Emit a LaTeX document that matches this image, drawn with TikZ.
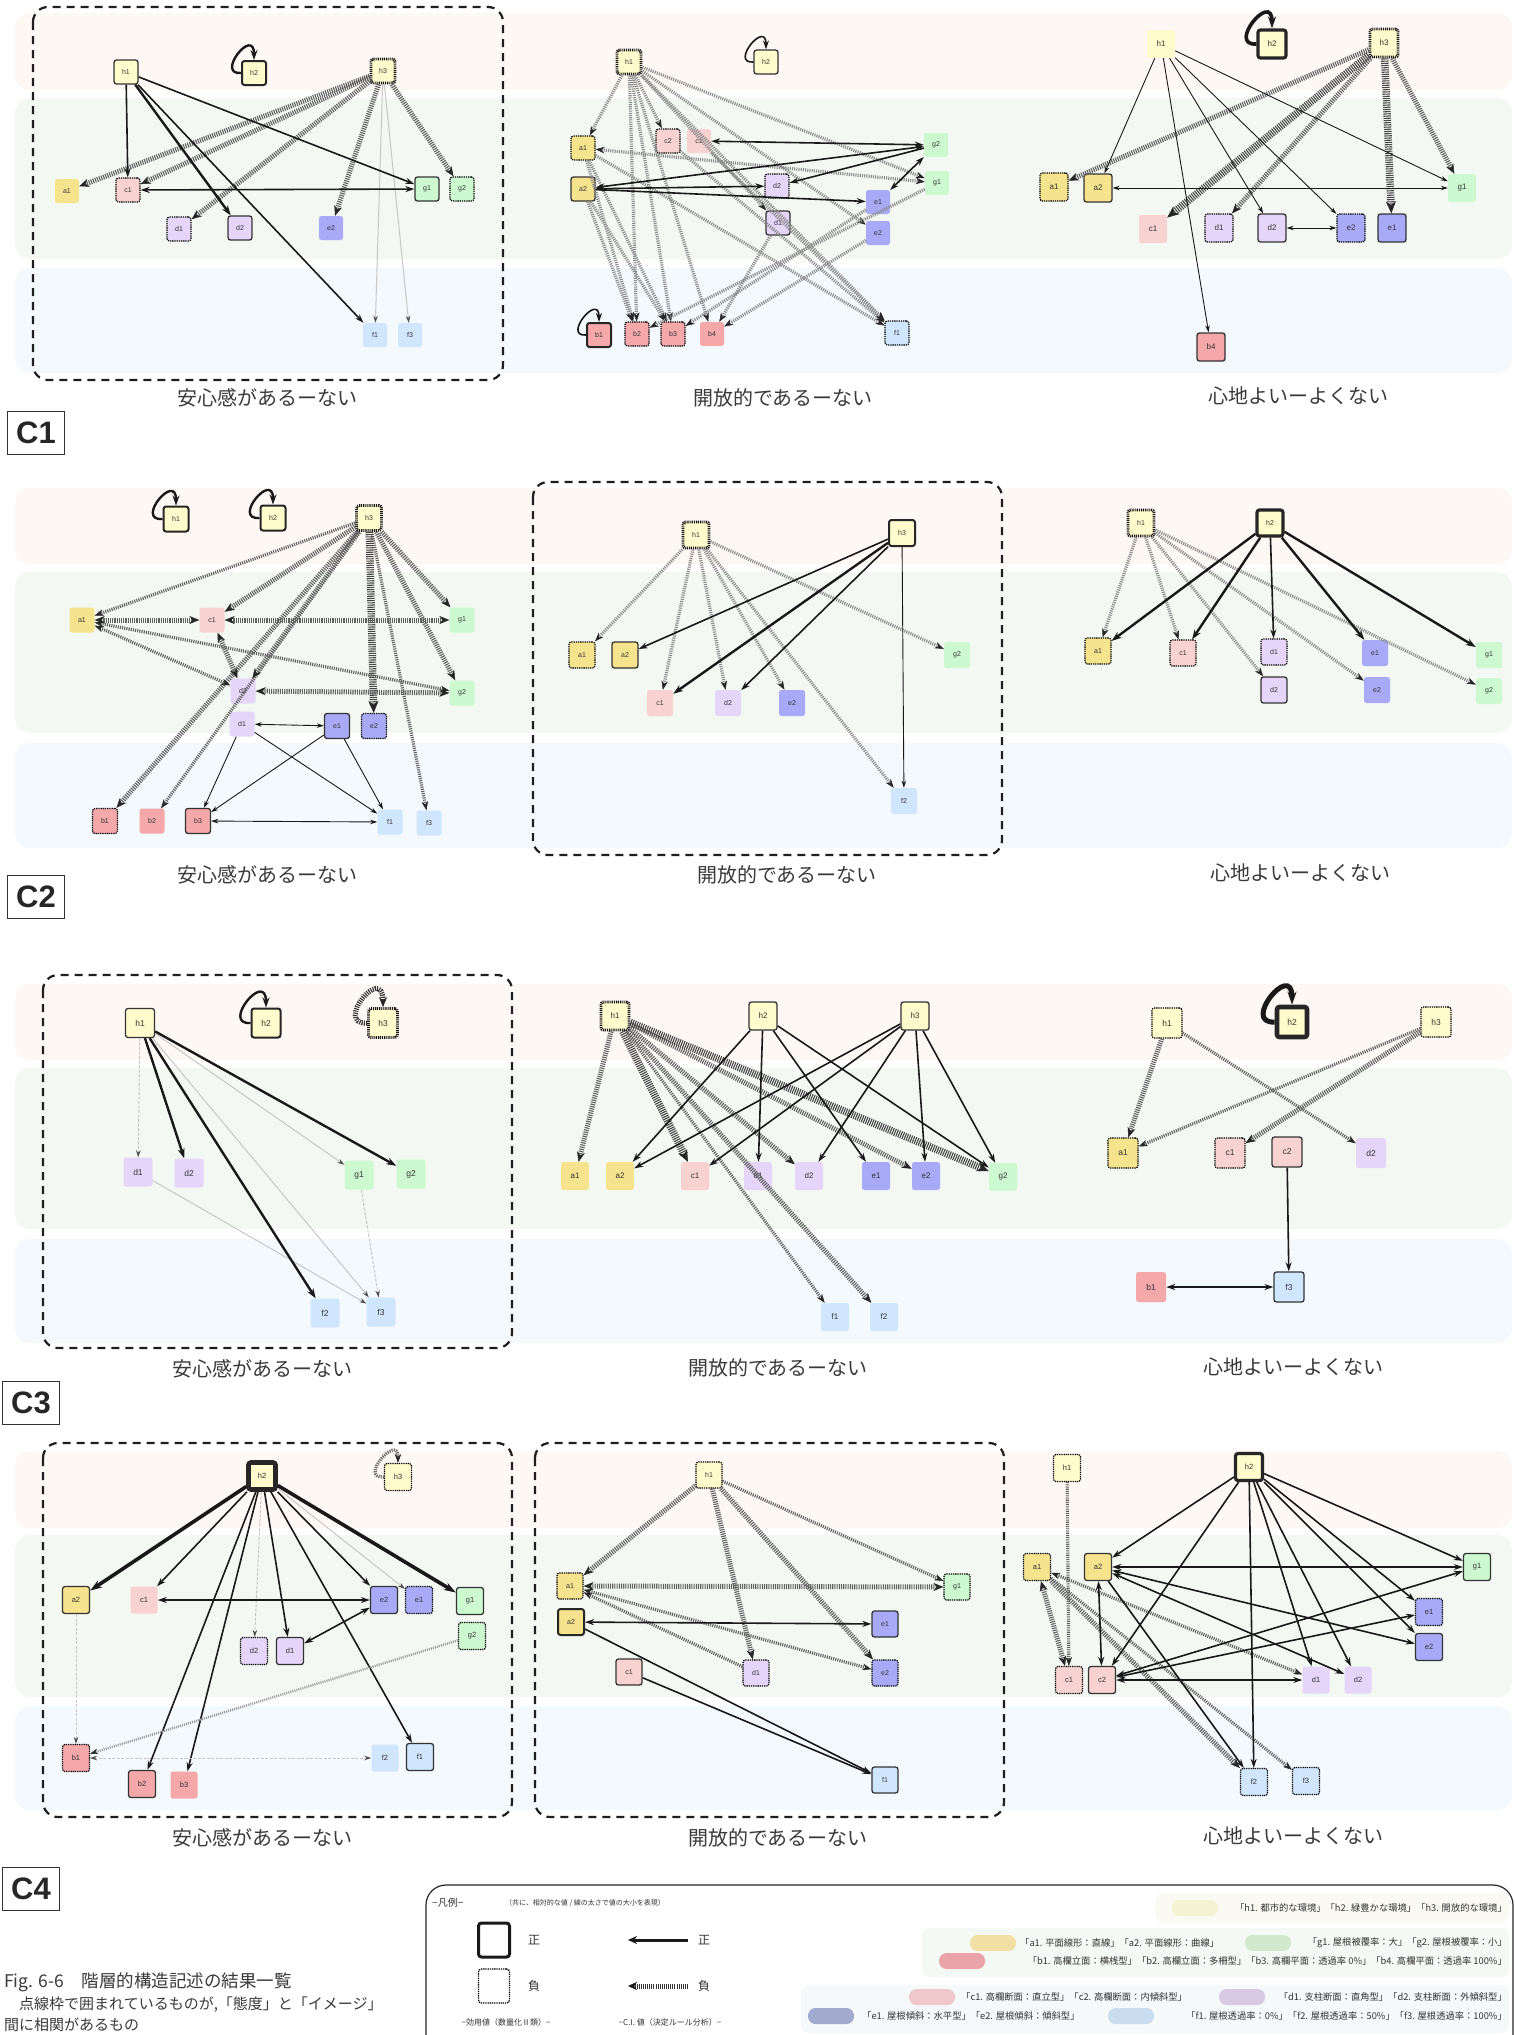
\documentclass[tikz,border=0pt]{standalone}
\usepackage{fontspec}
\setmainfont{Liberation Sans}
\newfontfamily\jp{Noto Sans CJK JP}
\usetikzlibrary{arrows.meta}

% node fills
\definecolor{ch}{HTML}{FFFBCC}
\definecolor{ca}{HTML}{F6E38E}
\definecolor{cb}{HTML}{F5A8AA}
\definecolor{cc}{HTML}{F8D2D0}
\definecolor{cd}{HTML}{E5D5F8}
\definecolor{ce}{HTML}{A8AAF7}
\definecolor{cf}{HTML}{D0E6FC}
\definecolor{cg}{HTML}{CDF9D0}
% band fills
\definecolor{bandA}{HTML}{FDF8F4}
\definecolor{bandB}{HTML}{F3F8F3}
\definecolor{bandC}{HTML}{F3F9FC}
% legend colours
\definecolor{lgA}{HTML}{FAFAF3}
\definecolor{lgB}{HTML}{F5F9F6}
\definecolor{lgC}{HTML}{F5F9FA}
\definecolor{pillh}{HTML}{F3F3D4}
\definecolor{pilla}{HTML}{F1DFA3}
\definecolor{pillg}{HTML}{D3E9CE}
\definecolor{pillb}{HTML}{E9A3A9}
\definecolor{pillc}{HTML}{F0C7CB}
\definecolor{pilld}{HTML}{D9C9E2}
\definecolor{pille}{HTML}{A3AACF}
\definecolor{pillf}{HTML}{C9DDEF}
\definecolor{txt}{HTML}{3A3A3A}

\begin{document}
\begin{tikzpicture}[x=1pt,y=-1pt,
  nd/.style={rectangle,rounded corners=2.5pt,inner sep=0pt,text=black!80},
  kh/.style={fill=ch}, ka/.style={fill=ca}, kb/.style={fill=cb}, kc/.style={fill=cc},
  kd/.style={fill=cd}, ke/.style={fill=ce}, kf/.style={fill=cf}, kg/.style={fill=cg},
  bs/.style={draw=black!80,line width=1.3pt},
  bm/.style={draw=black!85,line width=2pt},
  bt/.style={draw=black!85,line width=3.2pt},
  bx/.style={draw=black!85,line width=4.6pt},
  bd/.style={draw=black,line width=1.2pt,dash pattern=on 1.3pt off 0.9pt},
  bh/.style={draw=black!90,line width=2.8pt,dash pattern=on 1pt off 0.9pt},
  ps/.style={draw=black!90,line width=0.9pt,>={Stealth[length=7pt,width=4.5pt]},->},
  pm/.style={draw=black!90,line width=1.6pt,>={Stealth[length=9pt,width=6pt]},->},
  pt/.style={draw=black!90,line width=2.4pt,>={Stealth[length=10pt,width=7pt]},->},
  px/.style={draw=black!90,line width=3.6pt,>={Stealth[length=12pt,width=8pt]},->},
  pl/.style={draw=black!22,line width=1pt,>={Stealth[length=7pt,width=4.5pt,color=black!70]},->},
  pld/.style={pl,dash pattern=on 3pt off 1.5pt},
  ns/.style={draw=black!62,line width=3.2pt,dash pattern=on 1.1pt off 1.1pt,
     >={Stealth[length=9pt,width=6.5pt,line width=0.5pt,color=black!85]},->},
  nsl/.style={ns,draw=black!45},
  nm/.style={ns,line width=5pt,>={Stealth[length=10pt,width=8pt,line width=0.5pt,color=black!85]}},
  nt/.style={ns,draw=black!72,line width=7.5pt,>={Stealth[length=12pt,width=10pt,line width=0.5pt,color=black!85]}},
  band/.style={rounded corners=15pt},
  frame/.style={draw=black!88,line width=2.2pt,dash pattern=on 8pt off 6pt,rounded corners=15pt},
  ttl/.style={font=\jp\fontsize{20}{22}\selectfont,text=txt},
  clab/.style={draw=black!80,line width=1pt,minimum width=57pt,minimum height=43pt,inner sep=0pt,
     font=\bfseries\fontsize{31}{31}\selectfont,text=black!85},
  lt/.style={font=\jp\fontsize{9.3}{10}\selectfont,text=black!80,inner sep=0pt},
  pill/.style={rectangle,rounded corners=7.5pt,minimum width=46pt,minimum height=16pt,inner sep=0pt}
]
\useasboundingbox (0,0) rectangle (1515,2035);
\fill[white] (0,0) rectangle (1515,2035);

% ---------- background bands ----------
\foreach \ya/\yb/\yc/\yd/\ye/\yf in {13/90/98/259/268/373, 488/564/572/733/743/848,
    984/1060/1068/1229/1239/1343, 1451/1528/1535/1697/1706/1810}{
  \fill[bandA,band] (15,\ya) rectangle (1512,\yb);
  \fill[bandB,band] (15,\yc) rectangle (1512,\yd);
  \fill[bandC,band] (15,\ye) rectangle (1512,\yf);
}

% ---------- correlation frames ----------
\draw[frame] (33,7) rectangle (503,380);
\draw[frame] (533,482) rectangle (1002,855);
\draw[frame] (43,975) rectangle (512,1348);
\draw[frame] (43,1443) rectangle (512,1817);
\draw[frame] (535,1443) rectangle (1004,1817);

% ---------- titles ----------
\node[ttl] (tA) at (267,398) {安心感があるーない};
\node[ttl] (tB) at (783,398) {開放的であるーない};
\node[ttl] (tC) at (1298,396) {心地よいーよくない};
\node[ttl] (tD) at (267,875) {安心感があるーない};
\node[ttl] (tE) at (787,875) {開放的であるーない};
\node[ttl] (tF) at (1300,873) {心地よいーよくない};
\node[ttl] (tG) at (262,1369) {安心感があるーない};
\node[ttl] (tH) at (778,1368) {開放的であるーない};
\node[ttl] (tI) at (1293,1367) {心地よいーよくない};
\node[ttl] (tJ) at (262,1838) {安心感があるーない};
\node[ttl] (tK) at (778,1838) {開放的であるーない};
\node[ttl] (tL) at (1293,1836) {心地よいーよくない};

\node[clab] (cl1) at (36,433) {C1};
\node[clab] (cl2) at (36,897) {C2};
\node[clab] (cl3) at (31,1403) {C3};
\node[clab] (cl4) at (31,1889) {C4};

% ================= C1 : left =================
\begin{scope}[every node/.append style={minimum size=24pt,font=\fontsize{7}{8}\selectfont}]
\node[nd,kh,bs] (Ah1) at (126,72) {h1};
\node[nd,kh,bm] (Ah2) at (254,73) {h2};
\node[nd,kh,bh] (Ah3) at (383,71) {h3};
\node[nd,ka] (Aa1) at (67,191) {a1};
\node[nd,kc,bd] (Ac1) at (128,190) {c1};
\node[nd,kg,bs] (Ag1) at (427,189) {g1};
\node[nd,kg,bd] (Ag2) at (462,189) {g2};
\node[nd,kd,bd] (Ad1) at (179,229) {d1};
\node[nd,kd,bs] (Ad2) at (240,228) {d2};
\node[nd,ke] (Ae2) at (331,228) {e2};
\node[nd,kf] (Af1) at (375,335) {f1};
\node[nd,kf] (Af3) at (410,335) {f3};
\end{scope}
\draw[pl] (Ah3) -- (Af1);
\draw[pl] (Ah3) -- (Af3);
\draw[nm] (Ah3) -- (Aa1);
\draw[nm] (Ah3) -- (Ac1);
\draw[nm] (Ah3) -- (Ad1);
\draw[nm] (Ah3) -- (Ae2);
\draw[nm] (Ah3) -- (Ag2);
\draw[pm] (Ah1) -- (Ac1);
\draw[pt] (Ah1) -- (Ad2);
\draw[pm] (Ah1) -- (Af1);
\draw[pm] (Ah1) -- (Ag1);
\draw[pm,<->] (Ac1) -- (Ag1);
\draw[pt] (Ah2.west) .. controls +(-26,2) and +(0,-34) .. (Ah2.north);

% ================= C1 : middle =================
\begin{scope}[every node/.append style={minimum size=24pt,font=\fontsize{7}{8}\selectfont}]
\node[nd,kh,bh] (Bh1) at (629,62) {h1};
\node[nd,kh,bs] (Bh2) at (766,62) {h2};
\node[nd,ka,bd] (Ba1) at (583,148) {a1};
\node[nd,ka,bs] (Ba2) at (583,189) {a2};
\node[nd,kc,bd] (Bc2) at (668,141) {c2};
\node[nd,kc] (Bc1) at (699,141) {c1};
\node[nd,kd,bd] (Bd2) at (777,186) {d2};
\node[nd,kd,bs] (Bd1) at (778,223) {d1};
\node[nd,ke] (Be1) at (878,202) {e1};
\node[nd,ke] (Be2) at (878,233) {e2};
\node[nd,kg] (Bg2) at (936,145) {g2};
\node[nd,kg] (Bg1) at (937,183) {g1};
\node[nd,kb,bm] (Bb1) at (599,335) {b1};
\node[nd,kb,bd] (Bb2) at (637,334) {b2};
\node[nd,kb,bd] (Bb3) at (673,334) {b3};
\node[nd,kb] (Bb4) at (712,334) {b4};
\node[nd,kf,bd] (Bf1) at (897,333) {f1};
\end{scope}
\foreach \t in {Ba1,Bc2,Bb2,Bb3,Bb4,Bd1,Be2,Bg1,Bf1}{\draw[nsl] (Bh1) -- (\t);}
\draw[nsl,<->] (Ba1) -- (Bg1);
\draw[nsl] (Ba1) -- (Bb2);
\draw[nsl] (Ba1) -- (Bb3);
\draw[nsl] (Ba2) -- (Bb2);
\draw[nsl] (Ba2) -- (Bb3);
\draw[nsl] (Ba1) -- (Bf1);
\draw[nsl] (Bc2) -- (Bf1);
\draw[nsl] (Bc1) -- (Bf1);
\draw[nsl] (Bd1) -- (Bb4);
\draw[nsl] (Bg1) -- (Bb2);
\draw[nsl] (Be1) -- (Bb3);
\draw[nsl] (Be2) -- (Bb4);
\draw[pm,<->] (Bg2) -- (Ba2);
\draw[pm,<->] (Ba2) -- (Bd2);
\draw[pm] (Ba2) -- (Be1);
\draw[pm] (Bg2) -- (Bd2);
\draw[pm,<->] (Bc1) -- (Bg2);
\draw[pm,<->] (Be1) -- (Bg2);
\draw[pm] (Bh2.west) .. controls +(-24,2) and +(0,-30) .. (Bh2.north);
\draw[pm] (Bb1.west) .. controls +(-24,2) and +(0,-30) .. (Bb1.north);

% ================= C1 : right =================
\begin{scope}[every node/.append style={minimum size=28pt,font=\fontsize{8}{9}\selectfont}]
\node[nd,kh] (Ch1) at (1161,44) {h1};
\node[nd,kh,bt] (Ch2) at (1272,44) {h2};
\node[nd,kh,bh] (Ch3) at (1384,43) {h3};
\node[nd,ka,bd] (Ca1) at (1054,187) {a1};
\node[nd,ka,bs] (Ca2) at (1098,188) {a2};
\node[nd,kg] (Cg1) at (1462,188) {g1};
\node[nd,kc] (Cc1) at (1153,229) {c1};
\node[nd,kd,bd] (Cd1) at (1219,228) {d1};
\node[nd,kd,bs] (Cd2) at (1272,228) {d2};
\node[nd,ke,bd] (Ce2) at (1351,228) {e2};
\node[nd,ke,bs] (Ce1) at (1392,228) {e1};
\node[nd,kb,bs] (Cb4) at (1211,347) {b4};
\end{scope}
\draw[nm] (Ch3) -- (Ca1);
\draw[nt] (Ch3) -- (Cc1);
\draw[nm] (Ch3) -- (Cd1);
\draw[nt] (Ch3) -- (Ce1);
\draw[nm] (Ch3) -- (Cg1);
\foreach \t in {Ca2,Cb4,Cd2,Ce2,Cg1}{\draw[ps] (Ch1) -- (\t);}
\draw[ps,<->] (Ca2) -- (Cg1);
\draw[ps,<->] (Cd2) -- (Ce2);
\draw[px] (Ch2.west) .. controls +(-30,2) and +(0,-38) .. (Ch2.north);

% ================= C2 : left =================
\begin{scope}[every node/.append style={minimum size=25pt,font=\fontsize{7}{8}\selectfont}]
\node[nd,kh,bm] (Dh1) at (176,519) {h1};
\node[nd,kh,bm] (Dh2) at (273,518) {h2};
\node[nd,kh,bh] (Dh3) at (369,518) {h3};
\node[nd,ka] (Da1) at (82,620) {a1};
\node[nd,kc] (Dc1) at (212,620) {c1};
\node[nd,kg] (Dg1) at (462,620) {g1};
\node[nd,kd] (Dd2) at (243,691) {d2};
\node[nd,kg] (Dg2) at (462,693) {g2};
\node[nd,kd] (Dd1) at (242,724) {d1};
\node[nd,ke,bs] (De1) at (337,726) {e1};
\node[nd,ke,bd] (De2) at (374,726) {e2};
\node[nd,kb,bd] (Db1) at (105,821) {b1};
\node[nd,kb] (Db2) at (152,821) {b2};
\node[nd,kb,bs] (Db3) at (198,821) {b3};
\node[nd,kf] (Df1) at (390,822) {f1};
\node[nd,kf] (Df3) at (429,823) {f3};
\end{scope}
\draw[ns] (Dh3) -- (Da1);
\draw[ns] (Dh3) -- (Db2);
\draw[ns] (Dh3) -- (Df3);
\draw[nm] (Dh3) -- (Dc1);
\draw[nm] (Dh3) -- (Dd2);
\draw[nm] (Dh3) -- (Dg1);
\draw[nm] (Dh3) -- (Dg2);
\draw[nm] (Dh3) -- (Db1);
\draw[nt] (Dh3) -- (De2);
\draw[nm,<->] (Da1) -- (Dc1);
\draw[nm,<->] (Dc1) -- (Dg1);
\draw[nm,<->] (Dc1) -- (Dd2);
\draw[nm,<->] (Dd2) -- (Dg2);
\draw[ns,<->] (Da1) -- (Dd2);
\draw[ns,<->] (Da1) -- (Dg2);
\draw[ps,<->] (Dd1) -- (De1);
\draw[ps] (Dd1) -- (Db3);
\draw[ps] (Dd1) -- (Df1);
\draw[ps] (De1) -- (Db3);
\draw[ps] (De1) -- (Df1);
\draw[ps,<->] (Db3) -- (Df1);
\draw[pt] (Dh1.west) .. controls +(-28,2) and +(0,-34) .. (Dh1.north);
\draw[pt] (Dh2.west) .. controls +(-28,2) and +(0,-34) .. (Dh2.north);

% ================= C2 : middle =================
\begin{scope}[every node/.append style={minimum size=26pt,font=\fontsize{7}{8}\selectfont}]
\node[nd,kh,bh] (Eh1) at (696,535) {h1};
\node[nd,kh,bm] (Eh3) at (902,533) {h3};
\node[nd,ka,bd] (Ea1) at (582,655) {a1};
\node[nd,ka,bs] (Ea2) at (625,655) {a2};
\node[nd,kg] (Eg2) at (957,655) {g2};
\node[nd,kc] (Ec1) at (660,703) {c1};
\node[nd,kd] (Ed2) at (728,703) {d2};
\node[nd,ke] (Ee2) at (792,703) {e2};
\node[nd,kf] (Ef2) at (904,801) {f2};
\end{scope}
\foreach \t in {Ea1,Ec1,Ed2,Ee2,Eg2,Ef2}{\draw[nsl] (Eh1) -- (\t);}
\draw[pm] (Eh3) -- (Ea2);
\draw[pt] (Eh3) -- (Ec1);
\draw[pm] (Eh3) -- (Ed2);
\draw[ps] (Eh3) -- (Ef2);

% ================= C2 : right =================
\begin{scope}[every node/.append style={minimum size=26pt,font=\fontsize{7}{8}\selectfont}]
\node[nd,kh,bh] (Fh1) at (1141,523) {h1};
\node[nd,kh,bt] (Fh2) at (1270,523) {h2};
\node[nd,ka,bd] (Fa1) at (1098,651) {a1};
\node[nd,kc,bd] (Fc1) at (1183,653) {c1};
\node[nd,kd,bd] (Fd1) at (1274,652) {d1};
\node[nd,ke] (Fe1) at (1375,653) {e1};
\node[nd,kg] (Fg1) at (1489,655) {g1};
\node[nd,kd,bs] (Fd2) at (1274,690) {d2};
\node[nd,ke] (Fe2) at (1377,690) {e2};
\node[nd,kg] (Fg2) at (1489,691) {g2};
\end{scope}
\foreach \t in {Fa1,Fc1,Fd2,Fe2,Fg2}{\draw[nsl] (Fh1) -- (\t);}
\draw[pt] (Fh2) -- (Fa1);
\draw[pt] (Fh2) -- (Fc1);
\draw[pm] (Fh2) -- (Fd1);
\draw[pt] (Fh2) -- (Fe1);
\draw[pt] (Fh2) -- (Fg1);

% ================= C3 : left =================
\begin{scope}[every node/.append style={minimum size=29pt,font=\fontsize{8.5}{9}\selectfont}]
\node[nd,kh,bs] (Gh1) at (140,1023) {h1};
\node[nd,kh,bm] (Gh2) at (266,1023) {h2};
\node[nd,kh,bh] (Gh3) at (383,1023) {h3};
\node[nd,kd] (Gd1) at (138,1172) {d1};
\node[nd,kd] (Gd2) at (189,1173) {d2};
\node[nd,kg] (Gg1) at (359,1175) {g1};
\node[nd,kg] (Gg2) at (411,1174) {g2};
\node[nd,kf] (Gf2) at (325,1313) {f2};
\node[nd,kf] (Gf3) at (381,1312) {f3};
\end{scope}
\draw[pld] (Gh1) -- (Gd1);
\draw[pl] (Gh1) -- (Gf3);
\draw[pl] (Gh1) -- (Gg1);
\draw[pl] (Gd1) -- (Gf3);
\draw[pld] (Gg1) -- (Gf3);
\draw[pt] (Gh1) -- (Gd2);
\draw[pt] (Gh1) -- (Gf2);
\draw[pt] (Gh1) -- (Gg2);
\draw[pt] (Gh2.west) .. controls +(-30,2) and +(0,-38) .. (Gh2.north);
\draw[nm,draw=black!80] (Gh3.west) .. controls +(-34,2) and +(0,-44) .. (Gh3.north);

% ================= C3 : middle =================
\begin{scope}[every node/.append style={minimum size=28pt,font=\fontsize{8}{9}\selectfont}]
\node[nd,kh,bh] (Hh1) at (615,1016) {h1};
\node[nd,kh,bs] (Hh2) at (763,1016) {h2};
\node[nd,kh,bs] (Hh3) at (915,1016) {h3};
\node[nd,ka] (Ha1) at (575,1176) {a1};
\node[nd,ka] (Ha2) at (620,1176) {a2};
\node[nd,kc] (Hc1) at (695,1176) {c1};
\node[nd,kd] (Hd1) at (758,1176) {d1};
\node[nd,kd] (Hd2) at (809,1176) {d2};
\node[nd,ke] (He1) at (876,1176) {e1};
\node[nd,ke] (He2) at (926,1176) {e2};
\node[nd,kg] (Hg2) at (1003,1177) {g2};
\node[nd,kf] (Hf1) at (835,1317) {f1};
\node[nd,kf] (Hf2) at (884,1317) {f2};
\end{scope}
\draw[nm] (Hh1) -- (Ha1);
\draw[nt] (Hh1) -- (Hc1);
\draw[nm] (Hh1) -- (Hd2);
\draw[nm] (Hh1) -- (He2);
\draw[nt] (Hh1) -- (Hg2);
\draw[ns] (Hh1) -- (Hf1);
\draw[nm] (Hh1) -- (Hf2);
\foreach \t in {Ha2,Hd1,He1,Hg2}{\draw[pm] (Hh2) -- (\t);}
\foreach \t in {Ha2,Hc1,Hd2,He2,Hg2}{\draw[pm] (Hh3) -- (\t);}

% ================= C3 : right =================
\begin{scope}[every node/.append style={minimum size=30pt,font=\fontsize{8.5}{9}\selectfont}]
\node[nd,kh,bd] (Ih1) at (1167,1023) {h1};
\node[nd,kh,bx] (Ih2) at (1292,1022) {h2};
\node[nd,kh,bd] (Ih3) at (1436,1022) {h3};
\node[nd,ka,bd] (Ia1) at (1123,1153) {a1};
\node[nd,kc,bd] (Ic1) at (1230,1153) {c1};
\node[nd,kc,bs] (Ic2) at (1287,1152) {c2};
\node[nd,kd] (Id2) at (1371,1153) {d2};
\node[nd,kb] (Ib1) at (1151,1287) {b1};
\node[nd,kf,bs] (If3) at (1289,1287) {f3};
\end{scope}
\draw[nm] (Ih1) -- (Ia1);
\draw[ns] (Ih1) -- (Id2);
\draw[ns] (Ih3) -- (Ia1);
\draw[nm] (Ih3) -- (Ic1);
\draw[pm] (Ic2) -- (If3);
\draw[pm,<->] (Ib1) -- (If3);
\draw[draw=black!90,line width=5pt,-{Stealth[length=13pt,width=9pt]}] (Ih2.west) .. controls +(-34,2) and +(0,-44) .. (Ih2.north);

% ================= C4 : left =================
\begin{scope}[every node/.append style={minimum size=27pt,font=\fontsize{7.5}{8}\selectfont}]
\node[nd,kh,bx] (Jh2) at (262,1476) {h2};
\node[nd,kh,bd] (Jh3) at (398,1477) {h3};
\node[nd,ka,bs] (Ja2) at (76,1600) {a2};
\node[nd,kc] (Jc1) at (144,1600) {c1};
\node[nd,ke,bs] (Je2) at (384,1600) {e2};
\node[nd,ke,bd] (Je1) at (419,1600) {e1};
\node[nd,kg,bs] (Jg1) at (470,1601) {g1};
\node[nd,kg,bd] (Jg2) at (472,1636) {g2};
\node[nd,kd,bd] (Jd2) at (254,1651) {d2};
\node[nd,kd,bs] (Jd1) at (290,1651) {d1};
\node[nd,kb,bd] (Jb1) at (76,1758) {b1};
\node[nd,kf] (Jf2) at (385,1758) {f2};
\node[nd,kf,bs] (Jf1) at (420,1757) {f1};
\node[nd,kb,bs] (Jb2) at (142,1784) {b2};
\node[nd,kb] (Jb3) at (184,1785) {b3};
\end{scope}
\draw[px] (Jh2) -- (Ja2);
\draw[px] (Jh2) -- (Jg1);
\foreach \t in {Jc1,Jb2,Jb3,Jd1,Jf1,Je2}{\draw[pm] (Jh2) -- (\t);}
\draw[pld] (Jh2) -- (Jd2);
\draw[pl] (Jh2) -- (Je1);
\draw[pm,<->] (Jc1) -- (Je2);
\draw[pm,<->] (Je2) -- (Jd1);
\draw[pld] (Ja2) -- (Jb1);
\draw[draw=black!40,line width=2.4pt,dash pattern=on 1pt off 1.1pt,>={Stealth[length=8pt,width=5.5pt,line width=0.4pt,color=black!85]},->] (Jg2) -- (Jb1);
\draw[pld,<->] (Jb1) -- (Jf2);
\draw[ns] (Jh3.west) .. controls +(-26,2) and +(0,-30) .. (Jh3.north);

% ================= C4 : middle =================
\begin{scope}[every node/.append style={minimum size=26pt,font=\fontsize{7}{8}\selectfont}]
\node[nd,kh,bd] (Kh1) at (709,1475) {h1};
\node[nd,ka,bd] (Ka1) at (570,1586) {a1};
\node[nd,ka,bm] (Ka2) at (571,1622) {a2};
\node[nd,kg,bd] (Kg1) at (957,1587) {g1};
\node[nd,ke,bs] (Ke1) at (885,1624) {e1};
\node[nd,kc,bs] (Kc1) at (629,1672) {c1};
\node[nd,kd,bd] (Kd1) at (756,1673) {d1};
\node[nd,ke,bd] (Ke2) at (885,1673) {e2};
\node[nd,kf,bs] (Kf1) at (885,1780) {f1};
\end{scope}
\draw[nm] (Kh1) -- (Ka1);
\draw[nm] (Kh1) -- (Kd1);
\draw[nm] (Kh1) -- (Ke2);
\draw[ns] (Kh1) -- (Kg1);
\draw[nm,<->] (Ka1) -- (Kg1);
\draw[ns] (Kd1) -- (Ka1);
\draw[ns,<->] (Ka1) -- (Ke2);
\draw[pm,<->] (Ka2) -- (Ke1);
\draw[pm] (Ka2) -- (Kf1);
\draw[pm] (Kc1) -- (Kf1);

% ================= C4 : right =================
\begin{scope}[every node/.append style={minimum size=27pt,font=\fontsize{7.5}{8}\selectfont}]
\node[nd,kh,bd] (Lh1) at (1067,1468) {h1};
\node[nd,kh,bt] (Lh2) at (1249,1467) {h2};
\node[nd,ka,bd] (La1) at (1037,1567) {a1};
\node[nd,ka,bs] (La2) at (1098,1567) {a2};
\node[nd,kg,bs] (Lg1) at (1477,1567) {g1};
\node[nd,ke,bd] (Le1) at (1429,1612) {e1};
\node[nd,ke,bs] (Le2) at (1429,1647) {e2};
\node[nd,kc,bd] (Lc1) at (1069,1680) {c1};
\node[nd,kc,bs] (Lc2) at (1102,1680) {c2};
\node[nd,kd] (Ld1) at (1316,1680) {d1};
\node[nd,kd] (Ld2) at (1358,1680) {d2};
\node[nd,kf,bd] (Lf2) at (1254,1782) {f2};
\node[nd,kf,bd] (Lf3) at (1306,1781) {f3};
\end{scope}
\draw[ns] (Lh1) -- (Lc1);
\draw[nm,<->] (La1) -- (Lc1);
\draw[ns,<->] (La1) -- (Ld1);
\draw[nm] (La1) -- (Lf2);
\draw[ns] (La1) -- (Lf3);
\foreach \t in {La2,Lc2,Lf2,Ld1,Ld2,Le1,Le2,Lg1}{\draw[pm] (Lh2) -- (\t);}
\draw[pm,<->] (La2) -- (Lg1);
\draw[pm,<->] (La2) -- (Lc2);
\draw[pm] (La2) -- (Lf2);
\draw[pm,<->] (La2) -- (Le2);
\draw[pm,<->] (La2) -- (Ld2);
\draw[pm,<->] (Lc2) -- (Lg1);
\draw[pm,<->] (Lc2) -- (Le1);
\draw[pm,<->] (Lc2) -- (Ld1);

% ================= caption =================
\node[anchor=west,inner sep=0pt,font=\jp\fontsize{17.5}{19}\selectfont,text=txt] (cap1) at (4,1982) {Fig. 6-6　階層的構造記述の結果一覧};
\node[anchor=west,inner sep=0pt,font=\jp\fontsize{15}{16}\selectfont,text=txt] (cap2) at (4,2005) {　点線枠で囲まれているものが,「態度」と「イメージ」};
\node[anchor=west,inner sep=0pt,font=\jp\fontsize{15}{16}\selectfont,text=txt] (cap3) at (4,2025) {間に相関があるもの};

% ================= legend =================
\draw[rounded corners=20pt,line width=1.2pt,draw=black!85,fill=white] (426,1885) rectangle (1513,2070);
\fill[lgA,rounded corners=8pt] (1155,1893) rectangle (1509,1923);
\fill[lgB,rounded corners=8pt] (922,1928) rectangle (1509,1977);
\fill[lgC,rounded corners=8pt] (801,1985) rectangle (1509,2033);

\node[lt,anchor=west,font=\jp\fontsize{10}{11}\selectfont] (lgt) at (432,1903) {−凡例−};
\node[lt,anchor=west,font=\jp\fontsize{7}{8}\selectfont] (lgn) at (505,1903) {（共に、相対的な値 / 線の太さで値の大小を表現）};

\node[draw=black!90,line width=3pt,rounded corners=3pt,minimum width=31pt,minimum height=34pt,inner sep=0pt] (lbp) at (494,1940) {};
\node[lt,font=\jp\fontsize{12}{12}\selectfont] (lbpt) at (534,1940) {正};
\node[draw=black,line width=1.3pt,dash pattern=on 1.3pt off 0.9pt,rounded corners=3pt,minimum width=31pt,minimum height=34pt,inner sep=0pt] (lbn) at (494,1986) {};
\node[lt,font=\jp\fontsize{12}{12}\selectfont] (lbnt) at (534,1986) {負};
\node[lt,font=\jp\fontsize{8}{9}\selectfont] (lbc) at (506,2022) {−効用値（数量化Ⅱ類）−};

\coordinate (lap0) at (688,1940);
\coordinate (lap1) at (628,1940);
\coordinate (lan0) at (688,1986);
\coordinate (lan1) at (628,1986);
\draw[draw=black!90,line width=3pt,-{Stealth[length=9pt,width=8pt]}] (lap0) -- (lap1);
\draw[draw=black!80,line width=5pt,dash pattern=on 1pt off 1.1pt,-{Stealth[length=9pt,width=8pt,line width=0.4pt,color=black!90]}] (lan0) -- (lan1);
\node[lt,font=\jp\fontsize{12}{12}\selectfont] (lapt) at (704,1940) {正};
\node[lt,font=\jp\fontsize{12}{12}\selectfont] (lant) at (704,1986) {負};
\node[lt,font=\jp\fontsize{8}{9}\selectfont] (lac) at (670,2022) {−C.I. 値（決定ルール分析）−};

\node[pill,fill=pillh] (ph) at (1195,1908) {};
\node[lt,anchor=east] (th) at (1507,1908) {「h1. 都市的な環境」「h2. 緑豊かな環境」「h3. 開放的な環境」};
\node[pill,fill=pilla] (pa) at (993,1943) {};
\node[lt,anchor=west] (ta) at (1020,1943) {「a1. 平面線形：直線」「a2. 平面線形：曲線」};
\node[pill,fill=pillg] (pg) at (1268,1943) {};
\node[lt,anchor=east] (tg) at (1507,1943) {「g1. 屋根被覆率：大」「g2. 屋根被覆率：小」};
\node[pill,fill=pillb] (pb) at (962,1961) {};
\node[lt,anchor=east] (tb) at (1507,1961) {「b1. 高欄立面：横桟型」「b2. 高欄立面：多柵型」「b3. 高欄平面：透過率 0\%」「b4. 高欄平面：透過率 100\%」};
\node[pill,fill=pillc] (pc) at (932,1997) {};
\node[lt,anchor=west] (tc) at (961,1997) {「c1. 高欄断面：直立型」「c2. 高欄断面：内傾斜型」};
\node[pill,fill=pilld] (pd) at (1242,1997) {};
\node[lt,anchor=east] (td) at (1507,1997) {「d1. 支柱断面：直角型」「d2. 支柱断面：外傾斜型」};
\node[pill,fill=pille] (pe) at (831,2016) {};
\node[lt,anchor=west] (te) at (862,2016) {「e1. 屋根傾斜：水平型」「e2. 屋根傾斜：傾斜型」};
\node[pill,fill=pillf] (pf) at (1131,2016) {};
\node[lt,anchor=east] (tf) at (1507,2016) {「f1. 屋根透過率：0\%」「f2. 屋根透過率：50\%」「f3. 屋根透過率：100\%」};
\end{tikzpicture}
\end{document}
